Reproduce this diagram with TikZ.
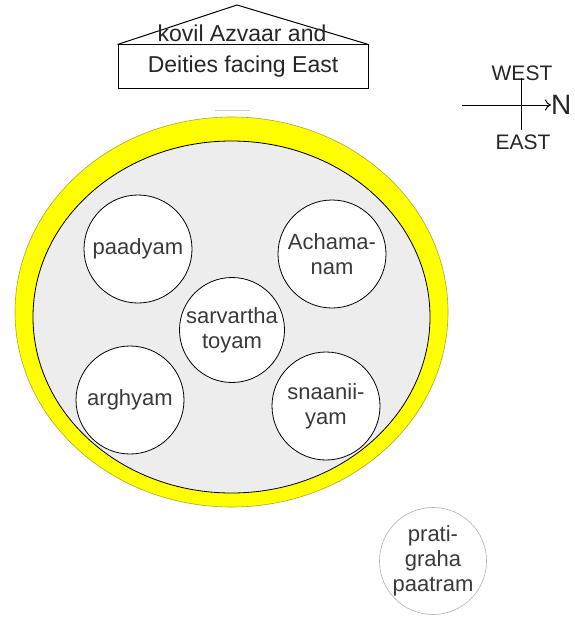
\documentclass[tikz,border=0pt]{standalone}
\usepackage{fontspec}
\setmainfont{Liberation Sans}
\usepackage{xcolor}
\usepackage{tikz}
\usetikzlibrary{positioning, arrows.meta}

\definecolor{plategray}{HTML}{EDEDED}
\definecolor{rimyellow}{HTML}{FFFF00}
\definecolor{rimedge}{HTML}{A8A830}
\definecolor{labelgray}{HTML}{3A3A3A}

\begin{document}
\begin{tikzpicture}[x=1pt, y=-1pt,
    cup/.style={circle, draw=black, line width=0.8pt, fill=white, minimum size=108pt, inner sep=0pt, align=center, text=labelgray, font=\fontsize{22}{25}\selectfont},
    plain/.style={text=black!85, font=\fontsize{23}{26}\selectfont}]
  \useasboundingbox (0,0) rectangle (574,626);

  % temple
  \node[plain, draw=black, line width=1pt, minimum width=250pt, minimum height=43pt, inner sep=0pt] (house) at (243,66.5) {Deities facing East};
  \coordinate (apex) at (237,5);
  \draw[line width=1pt] (house.north west) -- (apex) -- (house.north east);
  \node[plain] (kovil) at (242,33) {kovil Azvaar and};

  % plate
  \draw[fill=rimyellow, draw=rimedge, line width=0.6pt] (231.5,312) ellipse [x radius=216.5, y radius=195];
  \draw[fill=plategray, line width=0.8pt] (231.5,317) ellipse [x radius=198.5, y radius=176];
  \draw[gray!40, line width=1pt] (215,110) -- (250,110);

  % cups on the plate
  \node[cup] (paadyam) at (138,249) {paadyam};
  \node[cup] (achamanam) at (332,254) {Achama-\\nam};
  \node[cup, minimum size=105pt] (sarvartha) at (232,330) {sarvartha\\toyam};
  \node[cup] (arghyam) at (130,400) {arghyam};
  \node[cup] (snaaniiyam) at (326,406) {snaanii-\\yam};
  \node[cup, draw=gray!60, line width=0.6pt, minimum size=90pt] (pratigraha) at (433,561) {prati-\\graha\\paatram};

  % compass
  \node[plain, font=\fontsize{21}{21}\selectfont] (west) at (522,73) {WEST};
  \node[plain, font=\fontsize{21}{21}\selectfont] (east) at (523,142) {EAST};
  \node[plain, font=\fontsize{28}{28}\selectfont, anchor=west, inner sep=0pt] (north) at (551,105) {N};
  \coordinate (tail) at (462,105);
  \coordinate (stemtop) at (521,78);
  \coordinate (stembot) at (521,130);
  \draw[-{To[length=6pt, width=11pt]}, line width=1pt] (tail) -- (north.west);
  \draw[line width=1pt] (stemtop) -- (stembot);
\end{tikzpicture}
\end{document}
